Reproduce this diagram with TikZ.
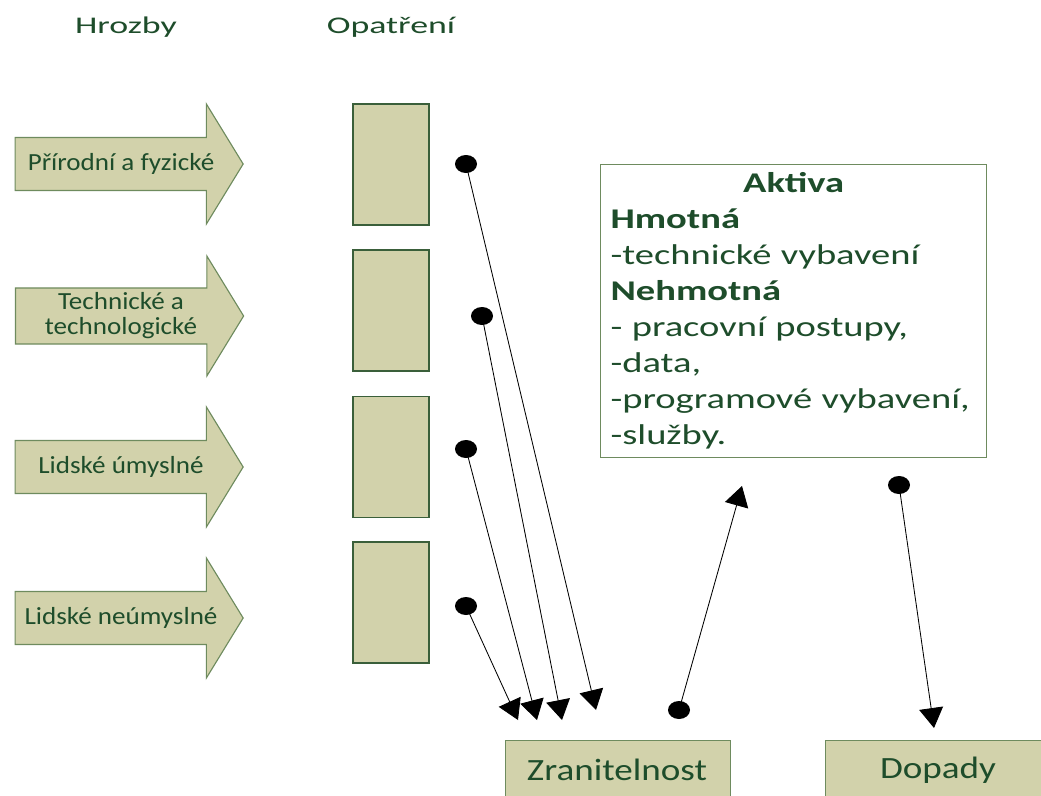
\documentclass[tikz,border=0pt]{standalone}
\usepackage{fontspec}
\setmainfont{Carlito}
\newfontfamily\titlefont{Carlito}[FakeStretch=1.5]
\newfontfamily\labfont{Carlito}[FakeStretch=1.1]
\newfontfamily\boxfont{Carlito}[FakeStretch=1.35]
\newfontfamily\bottomfont{Carlito}[FakeStretch=1.2]
\usetikzlibrary{arrows.meta, positioning, shapes.geometric, shapes.arrows}
\definecolor{txtgreen}{HTML}{1E4D2B}
\definecolor{khaki}{HTML}{D2D2AB}
\definecolor{edgegreen}{HTML}{3A5F3A}
\definecolor{arrowedge}{HTML}{6E8B5E}
\tikzset{
  title/.style={text=txtgreen, font=\titlefont\fontsize{17}{20}\selectfont},
  threat/.style={single arrow, draw=arrowedge, fill=khaki, thick,
                 minimum height=5.7cm, minimum width=3cm,
                 single arrow head extend=0.75cm, single arrow tip angle=117,
                 inner xsep=0pt, inner ysep=9pt, align=center, text=txtgreen,
                 font=\labfont\fontsize{17.5}{17.8}\selectfont},
  measure/.style={rectangle, draw=edgegreen, fill=khaki, thick,
                  minimum width=1.9cm, minimum height=3.025cm},
  dot/.style={ellipse, fill=black, inner sep=0pt,
              minimum width=0.55cm, minimum height=0.45cm},
  link/.style={line width=0.6pt, -{Triangle[length=0.5cm, width=0.6cm]}},
  result/.style={rectangle, draw=arrowedge, fill=khaki, thick, text=txtgreen,
                 minimum height=1.9cm, font=\bottomfont\fontsize{22}{24}\selectfont},
}
\begin{document}
\begin{tikzpicture}[x=0.025cm, y=-0.025cm]
    \useasboundingbox (0,0) rectangle (1041,796);
    % Column titles
    \node[title] (hrozby)   at (126,27) {Hrozby};
    \node[title] (opatreni) at (391,27) {Opatření};
    % Threats
    \node[threat] (t1) at (121,164) {Přírodní a fyzické};
    \node[threat, inner ysep=1.8pt] (t2) at (121,316) {Technické a\\technologické};
    \node[threat] (t3) at (121,467) {Lidské úmyslné};
    \node[threat] (t4) at (121,618) {Lidské neúmyslné};
    % Measures
    \node[measure] (m1) at (391,164.5) {};
    \node[measure] (m2) at (391,310.5) {};
    \node[measure] (m3) at (391,457)   {};
    \node[measure] (m4) at (391,602.5) {};
    % Assets
    \node[rectangle, draw=arrowedge, line width=0.8pt, anchor=north west,
          minimum width=9.65cm, minimum height=7.325cm, text width=9.15cm,
          inner xsep=0.25cm, text=txtgreen,
          font=\boxfont\fontsize{20.3}{25.6}\selectfont] (aktiva) at (600,164)
      {{\centering\bfseries Aktiva\par}
       \raggedright
       {\bfseries Hmotná}\par
       -technické vybavení\par
       {\bfseries Nehmotná}\par
       - pracovní postupy,\par
       -data,\par
       -programové vybavení,\par
       -služby.};
    % Results
    \node[result, anchor=north west, minimum width=5.625cm] (zran) at (505,740) {};
    \node[text=txtgreen, font=\bottomfont\fontsize{22}{24}\selectfont] (zranl) at (617,770) {Zranitelnost};
    \node[result, anchor=north west, minimum width=6cm] (dopady) at (825,740) {};
    \node[text=txtgreen, font=\bottomfont\fontsize{22}{24}\selectfont] (dopadyl) at (938,770) {Dopady};
    % Dots and arrow ends
    \node[dot] (d1) at (466,164) {};
    \node[dot] (d2) at (482,316) {};
    \node[dot] (d3) at (466,449) {};
    \node[dot] (d4) at (466,606) {};
    \node[dot] (d5) at (679,710) {};
    \node[dot] (d6) at (899,485) {};
    \coordinate (e1) at (596,710);
    \coordinate (e2) at (562,720);
    \coordinate (e3) at (537,720);
    \coordinate (e4) at (518,720);
    \coordinate (e5) at (742,486);
    \coordinate (e6) at (934,728);
    % Connectors
    \draw[link] (d1.center) -- (e1);
    \draw[link] (d2.center) -- (e2);
    \draw[link] (d3.center) -- (e3);
    \draw[link] (d4.center) -- (e4);
    \draw[link] (d5.center) -- (e5);
    \draw[link] (d6.center) -- (e6);
\end{tikzpicture}
\end{document}
